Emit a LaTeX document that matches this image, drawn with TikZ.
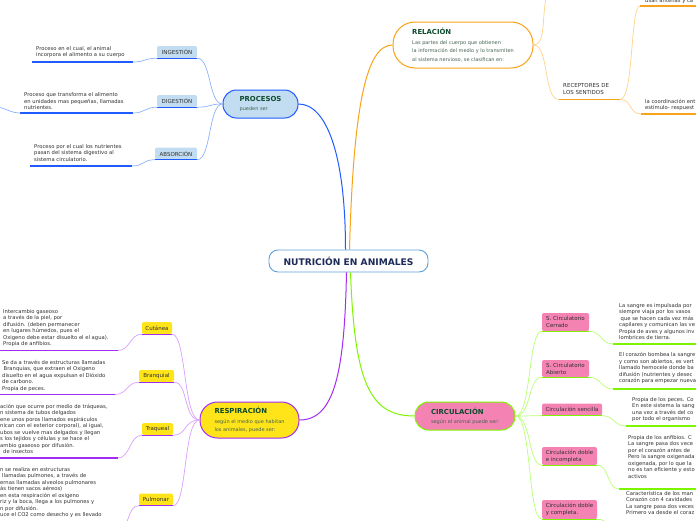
\documentclass[tikz,border=0pt]{standalone}
\usepackage{fontspec}
\setmainfont{DejaVu Sans}
\definecolor{bmain}{HTML}{1F5BFF}
\definecolor{blight}{HTML}{8DB1FF}
\definecolor{bfill}{HTML}{C2DDF1}
\definecolor{cborder}{HTML}{5E9FDB}
\definecolor{navy}{HTML}{1C2B57}
\definecolor{omain}{HTML}{F9A31A}
\definecolor{olight}{HTML}{FFD28A}
\definecolor{pmain}{HTML}{A42BF2}
\definecolor{plight}{HTML}{D8A0FF}
\definecolor{yfill}{HTML}{FFE419}
\definecolor{gmain}{HTML}{7EF500}
\definecolor{glight}{HTML}{B8FF73}
\definecolor{pkfill}{HTML}{F483B3}
\definecolor{dgreen}{HTML}{0D4A2E}
\definecolor{sgrey}{HTML}{466352}
\definecolor{txt}{HTML}{303030}
\newcommand\leaffont{\fontsize{5.25}{6.5}\selectfont}
\newcommand\boxfont{\fontsize{5.5}{7}\selectfont}
\newcommand\titfont{\bfseries\fontsize{6.9}{8}\selectfont\color{dgreen}}
\newcommand\subfont{\fontsize{5}{8.8}\selectfont}
\begin{document}
\begin{tikzpicture}[x=1pt,y=-1pt,
  leaf/.style={anchor=north west, inner sep=0pt, align=left, font=\leaffont, text=txt},
  subbox/.style={rounded corners=2pt, inner sep=1pt, minimum height=12pt, font=\boxfont, text=txt, align=left},
  bbox/.style={subbox, fill=bfill},
  ybox/.style={subbox, fill=yfill},
  kbox/.style={subbox, fill=pkfill},
  mainbox/.style={align=left, inner sep=0pt, font=\subfont, line width=1pt},
  bcon/.style={draw=bmain, line width=1pt},
  ocon/.style={draw=omain, line width=1pt},
  pcon/.style={draw=pmain, line width=1pt},
  gcon/.style={draw=gmain, line width=1pt},
  bsub/.style={draw=blight, line width=0.7pt},
  osub/.style={draw=olight, line width=0.7pt},
  psub/.style={draw=plight, line width=0.7pt},
  gsub/.style={draw=glight, line width=0.7pt},
  bul/.style={draw=bmain, line width=1.4pt},
  oul/.style={draw=omain, line width=1.4pt},
  pul/.style={draw=pmain, line width=1.4pt},
  gul/.style={draw=gmain, line width=1.4pt}]
\useasboundingbox (0,0) rectangle (696,520);
\clip (0,0) rectangle (696,520);

% ---------- central ----------
\node[draw=cborder, line width=0.9pt, fill=white, rounded corners=9pt, minimum width=159pt, minimum height=22pt,
  font=\bfseries\fontsize{9.1}{10}\selectfont, text=navy] (nut) at (348.5,261) {NUTRICIÓN EN ANIMALES};

% ---------- main nodes ----------
\node[mainbox, draw=bmain, fill=bfill, rounded corners=13.5pt, minimum width=75pt, minimum height=28pt] (proc) at (260.5,104)
  {{\titfont PROCESOS}\\[0.5pt]{\color{sgrey}pueden ser}};
\node[mainbox, draw=omain, fill=white, rounded corners=22pt, minimum width=140pt, minimum height=46pt, text=sgrey] (rel) at (463,45)
  {{\titfont RELACIÓN}\\[1pt]Las partes del cuerpo que obtienen\\la información del medio y lo transmiten\\al sistema nervioso, se clasifican en:};
\node[mainbox, draw=pmain, fill=yfill, rounded corners=17.5pt, minimum width=99pt, minimum height=36pt, text=sgrey] (resp) at (249.5,420)
  {{\titfont RESPIRACIÓN}\\[1pt]según el medio que habitan\\los animales, puede ser:};
\node[mainbox, draw=gmain, fill=pkfill, rounded corners=13.5pt, minimum width=100pt, minimum height=28pt, text=sgrey] (circ) at (465,416)
  {{\titfont CIRCULACIÓN}\\[0.5pt]según el animal puede ser:};

% ---------- main connectors ----------
\draw[bcon] ([xshift=-3pt]nut.north) .. controls +(0,-95) and +(28,0) .. (proc.east);
\draw[ocon] ([xshift=1pt]nut.north) .. controls +(4,-150) and +(-25,0) .. (rel.west);
\draw[pcon] ([xshift=-2pt]nut.south) .. controls +(-2,100) and +(35,0) .. (resp.east);
\draw[gcon] ([xshift=2pt]nut.south) .. controls +(4,110) and +(-45,0) .. (circ.west);

% ---------- PROCESOS ----------
\node[bbox, minimum width=40pt] (ing) at (177,52) {INGESTIÓN};
\node[bbox, minimum width=40pt] (dig) at (177,101) {DIGESTIÓN};
\node[bbox, minimum width=42pt] (abs) at (176,153.5) {ABSORCIÓN};
\foreach \n in {ing,dig,abs} \draw[bul, line width=1pt] (\n.south west) -- (\n.south east);
\foreach \n in {ing,dig,abs} \draw[bsub] (proc.west) .. controls +(-14,0) and +(14,0) .. (\n.south east);

\node[leaf] (ingT) at (36,46) {Proceso en el cual, el animal\\incorpora el alimento a su cuerpo};
\node[leaf] (digT) at (24,92.5) {Proceso que transforma el alimento\\en unidades mas pequeñas, llamadas\\nutrientes.};
\node[leaf] (absT) at (34,144) {Proceso por el cual los nutrientes\\pasan del sistema digestivo al\\sistema circulatorio.};
\coordinate (ingL) at (32,62);  \coordinate (ingR) at (133,62);
\coordinate (digL) at (20,113); \coordinate (digR) at (133,113);
\coordinate (absL) at (30,166); \coordinate (absR) at (132,166);
\coordinate (digX) at (-4,107);
\draw[bul] (ingL) -- (ingR);
\draw[bul] (digL) -- (digR);
\draw[bul] (absL) -- (absR);
\draw[bsub] (ingR) .. controls +(12,0) and +(-12,0) .. (ing.south west);
\draw[bsub] (digR) .. controls +(12,0) and +(-12,0) .. (dig.south west);
\draw[bsub] (absR) .. controls +(12,0) and +(-12,0) .. (abs.south west);
\draw[bsub] (digL) .. controls +(-10,0) and +(8,0) .. (digX);

% ---------- RELACION ----------
\coordinate (relUp) at (546,-3);
\node[anchor=north west, inner sep=0pt, align=left, font=\boxfont, text=txt] (rec) at (563,83.5) {RECEPTORES DE\\LOS SENTIDOS};
\coordinate (recL) at (559,99.5); \coordinate (recR) at (620,99.5);
\coordinate (topL) at (640,6);    \coordinate (topR) at (700,6);
\coordinate (botL) at (641,114);  \coordinate (botR) at (700,114);
\draw[osub] (rel.east) .. controls +(12,0) and +(-4,22) .. (relUp);
\draw[osub] (rel.east) .. controls +(16,0) and +(-16,0) .. (recL);
\draw[oul] (recL) -- (recR);
\draw[osub] (recR) .. controls +(14,0) and +(-10,0) .. (topL);
\draw[osub] (recR) .. controls +(12,0) and +(-12,0) .. (botL);
\draw[oul] (topL) -- (topR);
\draw[oul] (botL) -- (botR);
\node[anchor=base west, inner sep=0pt, font=\leaffont, text=txt] (topT) at (645,2.6) {usan antenas y ca};
\node[leaf] (botT) at (645,99) {la coordinación ent\\estímulo- respuest};

% ---------- RESPIRACION ----------
\node[ybox, minimum width=30pt] (cut) at (157,328) {Cutánea};
\node[ybox, minimum width=35pt] (bra) at (156.5,376) {Branquial};
\node[ybox, minimum width=31pt] (tra) at (157.5,429) {Traqueal};
\node[ybox, minimum width=34pt] (pulm) at (156,499.5) {Pulmonar};
\foreach \n in {cut,bra,tra,pulm} \draw[pul, line width=1pt] (\n.south west) -- (\n.south east);
\foreach \n in {cut,bra,tra,pulm} \draw[psub] (resp.west) .. controls +(-16,0) and +(14,0) .. (\n.south east);

\node[leaf] (cutT) at (3,309) {Intercambio gaseoso\\a través de la piel, por\\difusión. (deben permanecer\\en lugares húmedos, pues el\\Oxigeno debe estar disuelto el el agua).\\Propia de anfibios.};
\node[leaf] (braT) at (2,360) {Se da a través de estructuras llamadas\\\hspace*{1.5pt}Branquias, que extraen el Oxigeno\\disuelto en el agua expulsan el Dióxido\\de carbono.\\Propia de peces.};
\node[leaf] (traT) at (0,404) {ación que ocurre por medio de tráqueas,\\n sistema de tubos delgados\\ene unos poros llamados espiráculos\\nican con el exterior corporal), al igual,\\ubos se vuelve mas delgados y llegan\\s los tejidos y células y se hace el\\ambio gaseoso por difusión.\\\hspace*{3pt}de insectos};
\node[leaf] (pulT) at (0,467) {n se realiza en estructuras\\\hspace*{2pt}llamadas pulmones, a través de\\ernas llamadas alveolos pulmonares\\ás tienen sacos aéreos)\\en esta respiración el oxigeno\\riz y la boca, llega a los pulmones y\\n por difusión.\\uce el CO2 como desecho y es llevado};
\coordinate (cutL) at (-4,350.5); \coordinate (cutR) at (118,350.5);
\coordinate (braL) at (-4,394.5); \coordinate (braR) at (115,394.5);
\coordinate (traL) at (-4,458);   \coordinate (traR) at (118,458);
\coordinate (pulR) at (118,530);
\draw[pul] (cutL) -- (cutR);
\draw[pul] (braL) -- (braR);
\draw[pul] (traL) -- (traR);
\draw[psub] (cutR) .. controls +(12,0) and +(-12,0) .. (cut.south west);
\draw[psub] (braR) .. controls +(12,0) and +(-12,0) .. (bra.south west);
\draw[psub] (traR) .. controls +(12,0) and +(-12,0) .. (tra.south west);
\draw[psub] (pulR) .. controls +(12,0) and +(-12,0) .. (pulm.south west);

% ---------- CIRCULACION ----------
\node[kbox, minimum width=47pt, minimum height=18pt] (cer) at (565.5,322) {S. Circulatorio\\Cerrado};
\node[kbox, minimum width=47pt, minimum height=17pt] (abi) at (565.5,368.5) {S. Circulatorio\\Abierto};
\node[kbox, minimum width=60pt] (sen) at (572,409.5) {Circulación sencilla};
\node[kbox, minimum width=55pt, minimum height=18pt] (dinc) at (569.5,456) {Circulación doble\\e incompleta};
\node[kbox, minimum width=55pt, minimum height=19pt] (dcom) at (569.5,509.5) {Circulación doble\\y completa.};
\foreach \n in {cer,abi,sen,dinc,dcom} \draw[gul, line width=1pt] (\n.south west) -- (\n.south east);
\foreach \n in {cer,abi,sen,dinc,dcom} \draw[gsub] (circ.east) .. controls +(16,0) and +(-14,0) .. (\n.south west);

\node[leaf] (cerT) at (619,303) {La sangre es impulsada por\\siempre viaja por los vasos\\\hspace*{1.5pt}que se hacen cada vez más\\capilares y comunican las ve\\Propia de aves y algunos inv\\lombrices de tierra.};
\node[leaf] (abiT) at (619,352.5) {El corazón bombea la sangre\\y como son abiertos, es vert\\llamado hemocele donde ba\\difusión (nutrientes y desec\\corazón para empezar nueva};
\node[leaf] (senT) at (632,397) {Propia de los peces. Co\\En este sistema la sang\\una vez a través del co\\por todo el organismo};
\node[leaf] (dincT) at (628,435) {Propia de los anfibios. C\\La sangre pasa dos vece\\por el corazón antes de\\Pero la sangre oxigenada\\oxigenada, por lo que la\\no es tan eficiente y esto\\activos};
\node[leaf] (dcomT) at (626,491) {Característica de los man\\Corazón con 4 cavidades\\La sangre pasa dos veces\\Primero va desde el coraz};
\coordinate (cerL) at (613,344);  \coordinate (cerR) at (700,344);
\coordinate (abiL) at (613,389);  \coordinate (abiR) at (700,389);
\coordinate (senL) at (626,426);  \coordinate (senR) at (700,426);
\coordinate (dincL) at (619,489); \coordinate (dincR) at (700,489);
\coordinate (dcomL) at (619,530);
\foreach \n in {cer,abi,sen,dinc} {
  \draw[gsub] (\n.south east) .. controls +(12,0) and +(-12,0) .. (\n L);
  \draw[gul] (\n L) -- (\n R);
}
\draw[gsub] (dcom.south east) .. controls +(12,0) and +(-12,0) .. (dcomL);
\end{tikzpicture}
\end{document}
